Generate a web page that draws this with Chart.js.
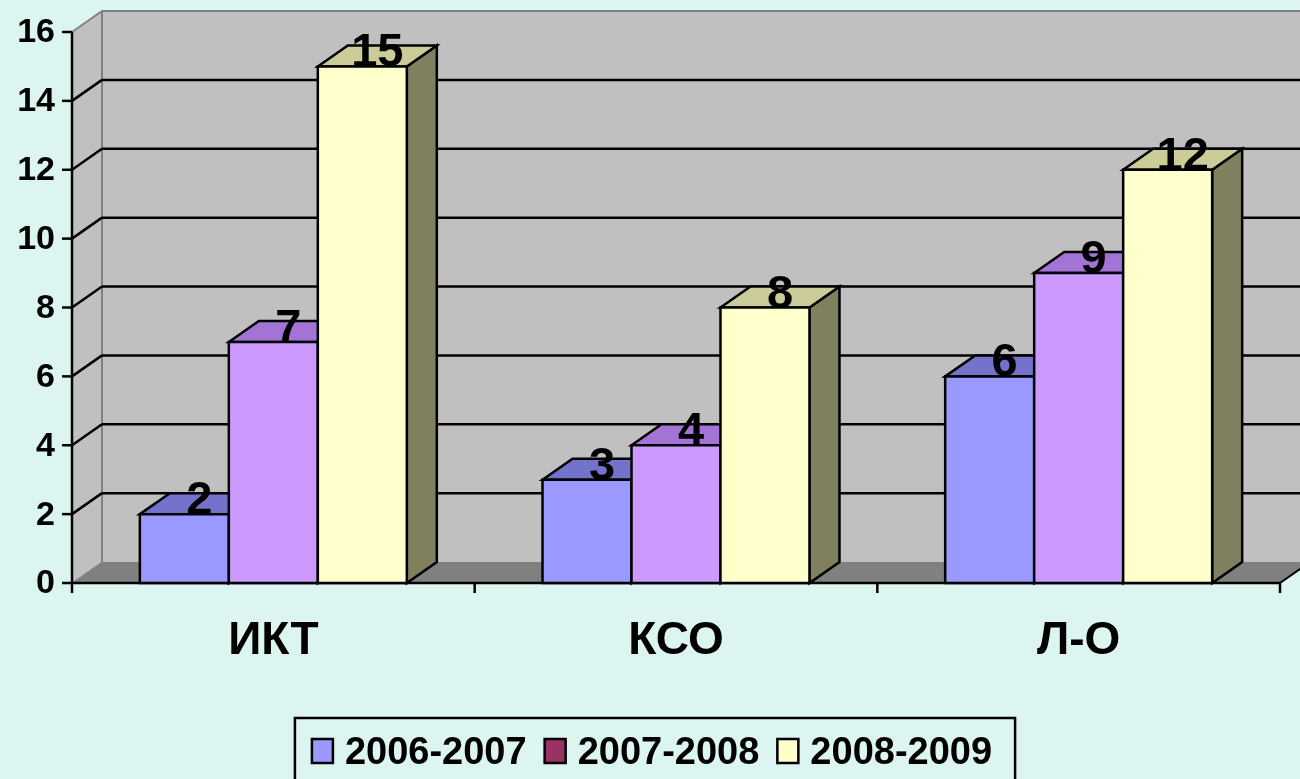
<!DOCTYPE html>
<html>
<head>
<meta charset="utf-8">
<script src="https://cdn.jsdelivr.net/npm/chart.js@4/dist/chart.umd.min.js"></script>
<style>
  html, body { margin: 0; padding: 0; background: #dcf5f1; }
  canvas { display: block; }
</style>
</head>
<body>
<canvas id="c" width="1300" height="779"></canvas>
<script>
// ---- data ----
const categories = ['ИКТ', 'КСО', 'Л-О'];
const seriesNames = ['2006-2007', '2007-2008', '2008-2009'];
const values2006 = [2, 3, 6];
const values2007 = [7, 4, 9];
const values2008 = [15, 8, 12];
const yTicks = [0, 2, 4, 6, 8, 10, 12, 14, 16];

// ---- styles ----
const BG = '#dcf5f1';
const frontColors = ['#9999ff', '#cc99ff', '#ffffcc'];
const topColors = ['#7373cc', '#a373d6', '#cccc99'];
const sideColors = ['#5c5c99', '#7a5c99', '#80805f'];
const legendColors = ['#9999ff', '#993366', '#ffffcc'];
const DX = 30, DY = -21;
const FONT = '"Liberation Sans", Arial, sans-serif';

function poly(ctx, pts, fill, stroke, lw) {
  ctx.beginPath();
  ctx.moveTo(pts[0][0], pts[0][1]);
  for (let i = 1; i < pts.length; i++) ctx.lineTo(pts[i][0], pts[i][1]);
  ctx.closePath();
  if (fill) { ctx.fillStyle = fill; ctx.fill(); }
  if (stroke) { ctx.strokeStyle = stroke; ctx.lineWidth = lw || 2; ctx.stroke(); }
}
function line(ctx, x1, y1, x2, y2, color, lw) {
  ctx.beginPath();
  ctx.moveTo(x1, y1); ctx.lineTo(x2, y2);
  ctx.strokeStyle = color; ctx.lineWidth = lw || 2; ctx.stroke();
}

const scene3d = {
  id: 'scene3d',
  beforeDraw(chart) {
    const ctx = chart.ctx;
    ctx.save();
    ctx.fillStyle = BG;
    ctx.fillRect(0, 0, chart.width, chart.height);
    ctx.restore();
  },
  beforeDatasetsDraw(chart) {
    const ctx = chart.ctx;
    const { left, right, top, bottom } = chart.chartArea;
    const W = chart.width;
    const ys = chart.scales.y;
    ctx.save();
    ctx.lineCap = 'butt';
    // back wall
    ctx.fillStyle = '#c0c0c0';
    ctx.fillRect(left + DX, top + DY, W - left - DX, bottom - top);
    // left wall
    poly(ctx, [[left, bottom], [left, top], [left + DX, top + DY], [left + DX, bottom + DY]], '#c0c0c0');
    // floor
    poly(ctx, [[left, bottom], [right, bottom], [right + DX, bottom + DY], [left + DX, bottom + DY]], '#808080');
    // wall edges
    line(ctx, left + DX, top + DY, W, top + DY, '#808080', 2);
    line(ctx, left + DX, top + DY, left + DX, bottom + DY, '#808080', 2);
    line(ctx, left, top, left + DX, top + DY, '#808080', 2);
    line(ctx, left, bottom, left + DX, bottom + DY, '#808080', 1);
    // gridlines
    yTicks.forEach(v => {
      if (v === yTicks[0] || v === yTicks[yTicks.length - 1]) return;
      const y = ys.getPixelForValue(v);
      line(ctx, left + DX, y + DY, W, y + DY, '#000', 2.5);
      line(ctx, left, y, left + DX, y + DY, '#000', 2.5);
    });
    // front axes
    line(ctx, left, top, left, bottom + 1, '#000', 2.5);
    line(ctx, left - 1, bottom, right, bottom, '#000', 2.5);
    line(ctx, right, bottom, right + DX, bottom + DY, '#000', 2);
    yTicks.forEach(v => {
      const y = ys.getPixelForValue(v);
      line(ctx, left - 10, y, left, y, '#000', 2.5);
    });
    for (let i = 0; i <= categories.length; i++) {
      const x = left + (right - left) * i / categories.length;
      line(ctx, x, bottom, x, bottom + 10, '#000', 2.5);
    }
    ctx.restore();
  },
  afterDatasetsDraw(chart) {
    const ctx = chart.ctx;
    ctx.save();
    ctx.lineJoin = 'miter';
    const n = chart.data.datasets.length;
    const labels = [];
    for (let i = 0; i < categories.length; i++) {
      for (let d = 0; d < n; d++) {
        const el = chart.getDatasetMeta(d).data[i];
        const p = el.getProps(['x', 'y', 'base', 'width'], true);
        const l = p.x - p.width / 2, r = p.x + p.width / 2, y = p.y, b = p.base;
        poly(ctx, [[r, y], [r + DX, y + DY], [r + DX, b + DY], [r, b]], sideColors[d], '#000', 2.5);
        poly(ctx, [[l, y], [l + DX, y + DY], [r + DX, y + DY], [r, y]], topColors[d], '#000', 2.5);
        poly(ctx, [[l, y], [r, y], [r, b], [l, b]], frontColors[d], '#000', 2.5);
        labels.push([String(chart.data.datasets[d].data[i]), p.x + DX / 2, y]);
      }
    }
    ctx.fillStyle = '#000';
    ctx.font = 'bold 47px ' + FONT;
    ctx.textAlign = 'center';
    ctx.textBaseline = 'alphabetic';
    labels.forEach(([t, x, y]) => ctx.fillText(t, x, y));
    ctx.restore();
  },
  afterDraw(chart) {
    const ctx = chart.ctx;
    const { left, bottom } = chart.chartArea;
    const ys = chart.scales.y;
    const xs = chart.scales.x;
    ctx.save();
    ctx.fillStyle = '#000';
    // y tick labels
    ctx.font = 'bold 34px ' + FONT;
    ctx.textAlign = 'right';
    ctx.textBaseline = 'middle';
    yTicks.forEach(v => ctx.fillText(String(v), left - 17, ys.getPixelForValue(v) + 1));
    // category labels
    ctx.font = 'bold 46px ' + FONT;
    ctx.textAlign = 'center';
    ctx.textBaseline = 'middle';
    categories.forEach((c, i) => ctx.fillText(c, xs.getPixelForValue(i), bottom + 58));
    // legend
    ctx.font = 'bold 38px ' + FONT;
    ctx.textAlign = 'left';
    ctx.textBaseline = 'alphabetic';
    const sw = 21, sh = 24, gapST = 12, gapItem = 18;
    const widths = seriesNames.map(s => ctx.measureText(s).width);
    let total = 0;
    widths.forEach((w, i) => { total += sw + gapST + w + (i < widths.length - 1 ? gapItem : 0); });
    let x = 652 - total / 2;
    const boxL = x - 17, boxR = x + total + 23;
    ctx.strokeStyle = '#000';
    ctx.lineWidth = 2.5;
    ctx.strokeRect(boxL, 718, boxR - boxL, 90);
    const swTop = 739, baseY = 764;
    seriesNames.forEach((s, i) => {
      ctx.fillStyle = legendColors[i];
      ctx.fillRect(x, swTop, sw, sh);
      ctx.strokeStyle = '#000';
      ctx.lineWidth = 2.5;
      ctx.strokeRect(x, swTop, sw, sh);
      ctx.fillStyle = '#000';
      ctx.fillText(s, x + sw + gapST, baseY);
      x += sw + gapST + widths[i] + gapItem;
    });
    ctx.restore();
  }
};

new Chart(document.getElementById('c'), {
  type: 'bar',
  data: {
    labels: categories,
    datasets: [
      { label: seriesNames[0], data: values2006, backgroundColor: frontColors[0] },
      { label: seriesNames[1], data: values2007, backgroundColor: frontColors[1] },
      { label: seriesNames[2], data: values2008, backgroundColor: frontColors[2] }
    ]
  },
  options: {
    responsive: false,
    animation: false,
    devicePixelRatio: 1,
    layout: { padding: { left: 72, right: 20, top: 32, bottom: 196 } },
    datasets: { bar: { categoryPercentage: 0.663, barPercentage: 1.0 } },
    scales: {
      x: { display: false, offset: true },
      y: { display: false, min: 0, max: 16, ticks: { stepSize: 2 } }
    },
    plugins: { legend: { display: false }, tooltip: { enabled: false } },
    events: []
  },
  plugins: [scene3d]
});
</script>
</body>
</html>
